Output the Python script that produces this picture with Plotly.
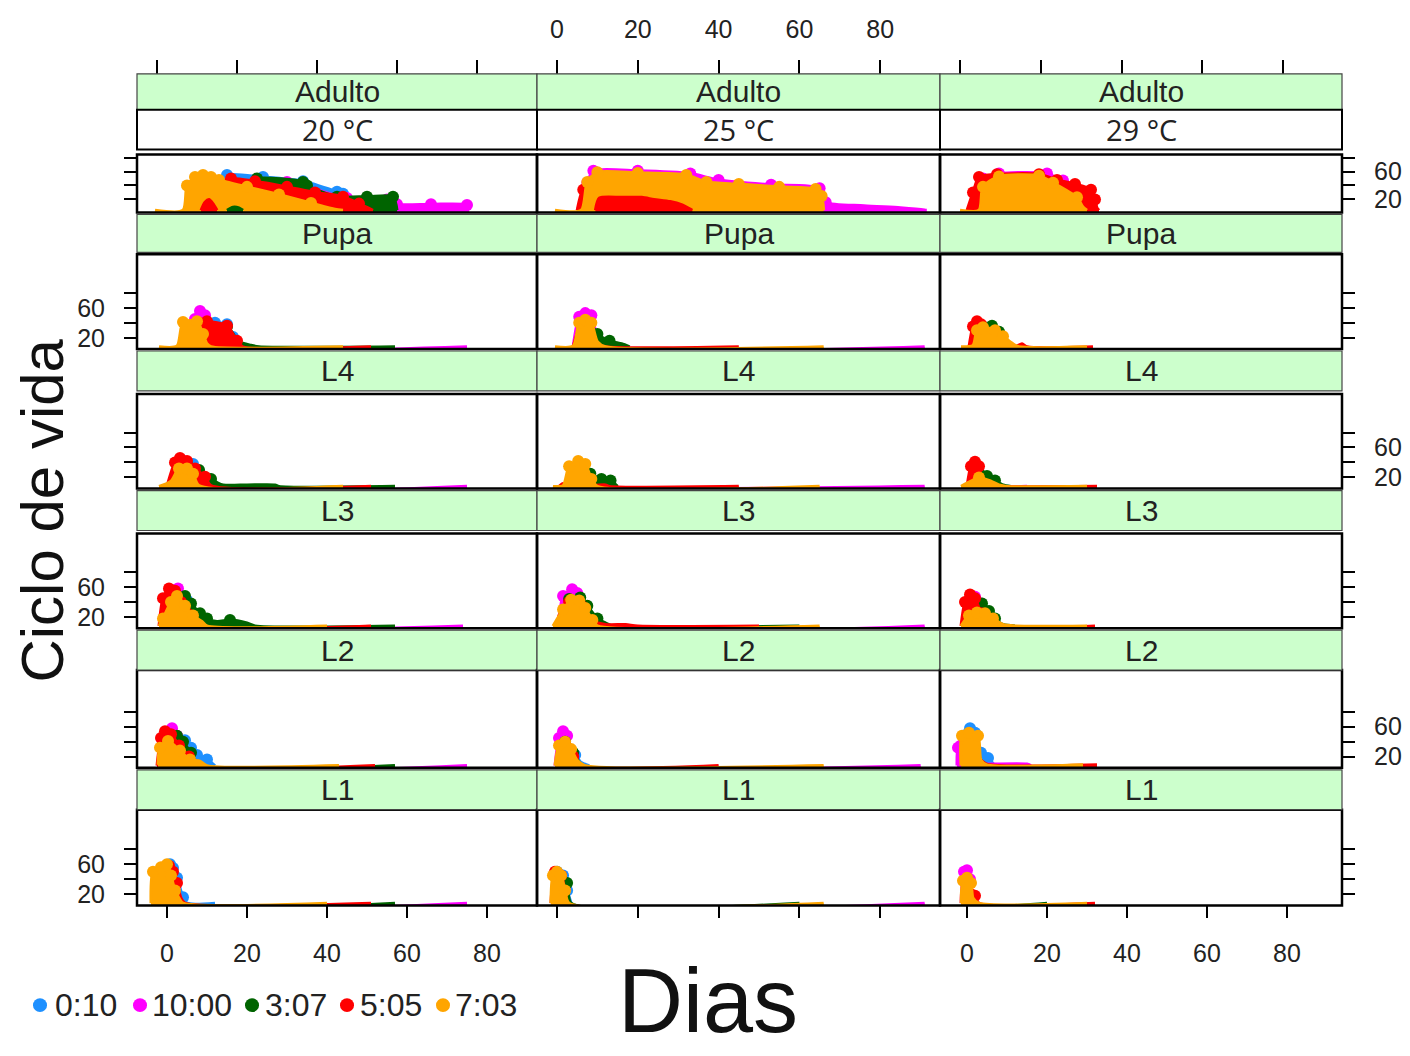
import plotly.graph_objects as go

# page body has an 8px margin: the figure is drawn 8px in from the top-left
OFF = 8
W, H = 1410 - OFF, 1056 - OFF

# ---------------- categories / labels ----------------
SERIES = ["0:10", "10:00", "3:07", "5:05", "7:03"]
COLORS = ["#1e90ff", "#ff00ff", "#006400", "#ff0000", "#ffa500"]
STAGES = ["Adulto", "Pupa", "L4", "L3", "L2", "L1"]
TEMPS = ["20 °C", "25 °C", "29 °C"]
X_TICKS = [0, 20, 40, 60, 80]
Y_TICKS = [20, 40, 60, 80]
Y_TICK_TEXT = ["20", "", "60", ""]

# ---------------- data: series -> (days, values) ----------------
adulto_20 = {
    "0:10": ([10, 13, 15, 24, 34, 42.5, 44, 45], [4.5, 40, 55, 52, 46, 31, 28, 4.5]),
    "10:00": ([15, 17, 20, 30, 45, 55, 57.5, 66, 75, 75.5], [4.5, 6, 40, 45, 22, 20, 13, 13, 12, 4.5]),
    "3:07": ([14, 17, 20, 22.5, 34, 35, 42.5, 50, 56.5, 57.5], [4.5, 10, 40, 50, 45, 40, 24, 24, 24, 4.5]),
    "5:05": ([7, 9, 10, 12, 16, 22, 30, 37, 44, 48, 51.5], [4.5, 20, 25, 40, 50, 46, 38, 30, 24, 14, 4.5]),
    "7:03": ([-3, 4, 5, 7, 9, 11, 13, 20, 28, 36, 42, 44], [4.5, 4.5, 40, 52, 55, 52, 48, 38, 27, 15, 6, 4.5]),
}
# low replicate values that show in front of the orange area
adulto_20_low = {
    "10:00": ([16, 17, 18.5], [4.5, 6, 4.5]),
    "3:07": ([15, 16.5, 18, 19], [4.5, 9, 8, 4.5]),
    "5:05": ([8.5, 9.5, 10.5, 11.5, 12.5], [4.5, 16, 20, 14, 4.5]),
}
adulto_25 = {
    "0:10": ([6, 8, 10, 30, 40, 60, 62], [4.5, 40, 50, 50, 35, 25, 4.5]),
    "10:00": ([5, 7.5, 9, 20, 33, 40, 53, 65, 66.5, 76, 85, 91, 91.5], [4.5, 44, 61, 61, 57, 48, 41, 36, 16, 11, 8, 5, 4.5]),
    "3:07": ([7, 9, 12, 30, 50, 58, 59], [4.5, 35, 45, 40, 30, 20, 4.5]),
    "5:05": ([5, 6.5, 8.5, 10, 21, 24, 30, 33, 33.5], [4.5, 34, 28, 24, 24, 21, 16, 6, 4.5]),
    "7:03": ([-0.5, 6, 7.5, 10, 20, 32, 37, 45, 55, 64, 65.5, 66], [4.5, 4.5, 45, 59, 58, 55, 45, 42, 38, 35, 25, 4.5]),
}
adulto_25_low = {
    "5:05": ([9.5, 10.5, 16, 21, 24, 28, 31, 33, 33.5], [4.5, 22, 23, 23, 20, 17, 12, 6, 4.5]),
}
adulto_29 = {
    "0:10": ([2, 5, 20, 26, 28], [4.5, 30, 35, 20, 4.5]),
    "10:00": ([2, 4, 8, 20, 24, 30, 31], [4.5, 50, 57, 57, 47, 30, 4.5]),
    "3:07": ([2, 5, 20, 28, 29.5, 31], [4.5, 35, 40, 20, 8, 4.5]),
    "5:05": ([0, 1.5, 3, 7.5, 18, 22.5, 27, 31, 32, 32.5, 33], [4.5, 30, 52, 56, 56, 48, 42, 34, 20, 8, 4.5]),
    "7:03": ([-1.75, 3, 4, 8, 18, 21.5, 27.5, 29, 30], [4.5, 4.5, 38, 53, 54, 44, 23, 9, 4.5]),
}

pupa_20 = {
    "0:10": ([6, 9, 12, 15, 16.5, 19, 21], [8, 38, 40, 38, 21, 11, 8]),
    "10:00": ([5, 7, 8.25, 9.5, 11, 13, 75], [8, 45, 56, 50, 20, 8, 8]),
    "3:07": ([6, 10, 15, 18, 21, 23, 57], [8, 35, 35, 15, 10, 8, 8]),
    "5:05": ([6, 8, 10, 15, 17.5, 19, 51], [8, 40, 42, 36, 16, 8, 8]),
    "7:03": ([-2, 2.5, 4, 7.5, 9, 10, 11, 44], [8, 9, 41, 42, 25, 12, 8, 8]),
}
pupa_25 = {
    "0:10": ([4, 6, 8, 10, 12], [8, 40, 45, 15, 8]),
    "10:00": ([4, 5.5, 7, 8.5, 10, 12, 91], [8, 48, 53, 50, 20, 8, 8]),
    "3:07": ([5, 8, 10, 13, 16, 18], [8, 40, 25, 16, 12, 8]),
    "5:05": ([4, 6, 8, 10, 12, 45], [8, 38, 40, 12, 8, 8]),
    "7:03": ([-0.5, 4, 5.5, 7, 8.5, 10, 12, 66], [8, 9, 40, 44, 40, 15, 8, 8]),
}
pupa_29 = {
    "0:10": ([1, 3, 5, 7], [8, 28, 25, 8]),
    "10:00": ([1, 3, 5, 8], [8, 30, 30, 8]),
    "3:07": ([2, 4, 6.25, 8, 10, 12], [8, 35, 36, 28, 15, 8]),
    "5:05": ([0.5, 1.5, 2.5, 3.5, 5, 12, 13.75, 15, 31.5], [8, 35, 42, 38, 12, 8, 12, 8, 8]),
    "7:03": ([-1.5, 1.5, 2.5, 4, 7, 9, 11.5, 13, 30], [8, 10, 30, 34, 30, 22, 12, 8, 8]),
}

l4_20 = {
    "0:10": ([2, 4, 6.5, 8, 10, 12], [8, 40, 38, 28, 14, 8]),
    "10:00": ([1, 3.5, 6, 9, 75], [8, 44, 30, 8, 8]),
    "3:07": ([2, 5, 8, 11, 14, 20, 27, 28, 57], [8, 38, 30, 18, 10, 10, 10, 8, 8]),
    "5:05": ([0, 2, 3.25, 5, 7, 9.5, 11, 51], [8, 40, 46, 42, 32, 21, 9, 8]),
    "7:03": ([-2, 1, 3, 5, 6.5, 8, 44], [8, 15, 32, 32, 25, 9, 8]),
}
l4_25 = {
    "0:10": ([2, 4, 6, 8], [8, 30, 25, 8]),
    "10:00": ([2, 5, 8, 12, 91], [8, 30, 15, 8, 8]),
    "3:07": ([2, 4, 6, 8.25, 11, 13.25, 15], [8, 30, 36, 25, 18, 16, 8]),
    "5:05": ([0.5, 1.5, 2.5, 5, 8, 12, 13, 45], [8, 12, 8, 20, 10, 10, 8, 8]),
    "7:03": ([-1, 1.5, 3, 5.25, 7, 8.5, 10, 65], [8, 9, 35, 42, 38, 18, 8, 8]),
}
l4_29 = {
    "0:10": ([1, 3, 5, 7], [8, 18, 14, 8]),
    "10:00": ([0.5, 2, 4, 7, 15], [8, 22, 18, 8, 8]),
    "3:07": ([1, 3, 5, 7, 9, 11], [8, 26, 22, 16, 10, 8]),
    "5:05": ([0, 1, 2, 3, 4, 8, 9, 32.5], [8, 35, 41, 35, 10, 9, 8, 8]),
    "7:03": ([-1.5, 1, 3, 6, 8, 10, 30], [8, 15, 20, 15, 10, 8, 8]),
}

l3_20 = {
    "0:10": ([1, 3, 5, 7, 9], [8, 40, 42, 20, 8]),
    "10:00": ([0, 1.5, 2.75, 4, 6, 8, 74], [8, 50, 58, 45, 20, 8, 8]),
    "3:07": ([0, 3, 4.5, 6, 8.25, 10, 12.5, 15.75, 20, 22, 57], [8, 45, 48, 38, 25, 18, 14, 16, 12, 8, 8]),
    "5:05": ([-2, -1, 0.5, 2, 3.5, 5, 8, 51], [8, 45, 58, 55, 40, 25, 9, 8]),
    "7:03": ([-2, -1, 1, 2.5, 4.5, 6.5, 8.75, 10, 40], [8, 18, 40, 48, 35, 22, 14, 8, 8]),
}
l3_25 = {
    "0:10": ([1, 3, 5, 7], [8, 40, 40, 8]),
    "10:00": ([0.5, 1.5, 3.75, 5, 6.5, 8, 91], [8, 48, 57, 52, 30, 9, 8]),
    "3:07": ([1, 3, 5.75, 7.5, 10, 12, 14, 60], [8, 44, 46, 35, 18, 12, 8, 8]),
    "5:05": ([0, 1.5, 3, 6, 9, 12, 17, 20, 50], [8, 20, 40, 35, 15, 10, 10, 8, 8]),
    "7:03": ([-1, 1.5, 3.5, 5.5, 7, 8.75, 10, 65], [8, 30, 43, 42, 32, 16, 8, 8]),
}
l3_29 = {
    "0:10": ([0, 2, 4, 6], [8, 35, 30, 8]),
    "10:00": ([-1, 0.5, 2, 3.5, 5, 7], [8, 40, 47, 38, 15, 8]),
    "3:07": ([0, 2, 3.75, 5.5, 7, 9, 12], [8, 36, 38, 28, 18, 10, 8]),
    "5:05": ([-1.5, -0.5, 0.75, 2, 3.5, 5, 32], [8, 40, 50, 45, 25, 10, 8]),
    "7:03": ([-1.5, 0.5, 2.5, 4.5, 6.5, 9, 12, 30], [8, 22, 26, 25, 18, 10, 8, 8]),
}

l2_20 = {
    "0:10": ([0, 2.5, 4.5, 6, 7.5, 10, 12], [8, 40, 42, 32, 22, 16, 8]),
    "10:00": ([-1, 0, 1.25, 2.5, 4, 6, 75], [8, 45, 58, 48, 30, 8, 8]),
    "3:07": ([-1, 1, 2.5, 4, 6, 8, 57], [8, 45, 48, 40, 25, 8, 8]),
    "5:05": ([-2.5, -1.5, -0.5, 1, 3, 5.5, 7, 52], [8, 45, 54, 50, 35, 20, 8, 8]),
    "7:03": ([-2.25, -1.75, 0.25, 3.25, 5.75, 8.25, 10, 43], [9, 32, 41, 28, 16, 14, 8, 8]),
}
l2_25 = {
    "0:10": ([0, 2, 4.5, 6, 8], [8, 35, 22, 12, 8]),
    "10:00": ([-0.5, 0.5, 1.5, 2.5, 4, 6, 90], [8, 45, 54, 48, 20, 8, 8]),
    "3:07": ([0, 2, 4, 6], [8, 40, 25, 8]),
    "5:05": ([0, 2, 4, 6, 40], [8, 38, 20, 8, 8]),
    "7:03": ([-0.5, 0.5, 2, 3.5, 5, 7, 66], [8, 35, 40, 30, 15, 8, 8]),
}
l2_29 = {
    "0:10": ([-1, 0, 0.75, 2, 3.5, 5.25, 7], [8, 50, 58, 52, 25, 18, 8]),
    "10:00": ([-2.5, -2.25, -1.5, 0, 3, 6, 15, 16], [8, 32, 35, 20, 10, 10, 10, 8]),
    "3:07": ([0, 2, 4], [8, 30, 8]),
    "5:05": ([0, 2, 5, 32.5], [8, 20, 10, 9]),
    "7:03": ([-1.5, -1.25, 0.5, 2.75, 3.5, 5, 29], [8, 48, 52, 48, 15, 9, 9]),
}

l1_20 = {
    "0:10": ([-2, 0, 0.75, 1.5, 2.5, 4, 5, 12], [8, 55, 60, 55, 42, 16, 8, 8]),
    "10:00": ([-3, 0, 2, 3, 75], [8, 50, 30, 8, 8]),
    "3:07": ([-3, 0, 2, 3.5, 57], [8, 50, 35, 8, 8]),
    "5:05": ([-3, -1, 0.5, 1.5, 2.5, 3.5, 4.5, 51], [8, 55, 58, 50, 35, 15, 8, 8]),
    "7:03": ([-4, -3.5, -1.5, 0, 1, 2, 3, 4, 40], [8, 50, 56, 60, 45, 25, 15, 8, 8]),
}
l1_25 = {
    "0:10": ([-1, 0, 1.5, 2.5, 3.5], [8, 50, 45, 25, 8]),
    "10:00": ([-1, 0, 2, 3, 91], [8, 45, 30, 8, 8]),
    "3:07": ([-1, 0.5, 2.5, 3.5, 60], [8, 40, 35, 8, 8]),
    "5:05": ([-1.5, -0.5, 1, 2.5], [8, 50, 45, 8]),
    "7:03": ([-1.5, -1, 0, 1, 2, 3, 66], [8, 45, 50, 45, 25, 8, 8]),
}
l1_29 = {
    "0:10": ([-1, 0, 1], [8, 40, 8]),
    "10:00": ([-1.5, -0.75, 0, 0.75, 1.5], [8, 50, 52, 40, 8]),
    "3:07": ([-1, 0, 1, 20], [8, 35, 8, 8]),
    "5:05": ([-0.5, 0.25, 1, 2, 3, 32], [8, 22, 20, 18, 8, 8]),
    "7:03": ([-1.5, -1, 0, 1, 1.5, 3, 30], [8, 38, 42, 35, 15, 8, 8]),
}

PANELS = [
    [adulto_20, adulto_25, adulto_29],
    [pupa_20, pupa_25, pupa_29],
    [l4_20, l4_25, l4_29],
    [l3_20, l3_25, l3_29],
    [l2_20, l2_25, l2_29],
    [l1_20, l1_25, l1_29],
]
FRONT = {(0, 0): adulto_20_low, (0, 1): adulto_25_low}

# ---------------- geometry (page pixels) ----------------
COL_PX = [(137, 537), (537, 940), (940, 1342)]
ROW_PX = [(155, 213), (255, 350), (395, 490), (535, 630), (672, 770), (812, 908)]
STRIP_PX = [(74, 110), (215, 253), (352, 392), (492, 532), (632, 672), (772, 812)]
TEMP_STRIP_PX = (110, 150)
X_RANGES = [[-7.5, 92.5], [-4.95, 94.8], [-6.75, 93.75]]
X_RANGES_TOP = [[-5, 95], [-4.95, 94.8], [-4.95, 94.55]]


def y_range(r):
    top, bot = ROW_PX[r]
    if r == 0:
        return [1.4, 1.4 + (bot - top) / 0.7]
    return [5, 5 + (bot - top) / 0.75]


def px2x(p):
    return (p - OFF) / W


def px2y(p):
    return 1 - (p - OFF) / H


FONT = "Liberation Sans, Arial, sans-serif"
fig = go.Figure()
layout = dict(
    width=W, height=H, margin=dict(l=0, r=0, t=0, b=0),
    paper_bgcolor="white", plot_bgcolor="rgba(0,0,0,0)", showlegend=False,
)
shapes = []
annotations = []


def add_series(days, vals, col, xa, ya, lo):
    sizes = [12 if v > lo + 10 else 0 for v in vals]
    fig.add_trace(go.Scatter(
        x=days, y=vals, xaxis=xa, yaxis=ya,
        mode="lines+markers", fill="tozeroy", fillcolor=col, opacity=1,
        line=dict(color=col, width=3, shape="spline", smoothing=0.7),
        marker=dict(color=col, size=sizes, opacity=1, line=dict(width=0)),
        hoverinfo="skip", showlegend=False,
    ))


for r in range(6):
    yr = y_range(r)
    for c in range(3):
        k = r * 3 + c + 1
        xa = "x" if k == 1 else f"x{k}"
        ya = "y" if k == 1 else f"y{k}"
        data = PANELS[r][c]
        for s, col in zip(SERIES, COLORS):
            days, vals = data[s]
            add_series(days, vals, col, xa, ya, yr[0])
        front = FRONT.get((r, c), {})
        for s, col in zip(SERIES, COLORS):
            if s in front:
                days, vals = front[s]
                add_series(days, vals, col, xa, ya, 100)
        x0, x1 = COL_PX[c]
        yt, yb = ROW_PX[r]
        xaxis = dict(
            domain=[px2x(x0), px2x(x1)], range=X_RANGES[c], anchor=ya,
            showgrid=False, zeroline=False, showline=False,
            tickvals=X_TICKS,
        )
        if r == 5:
            xaxis.update(ticks="outside", ticklen=12, tickwidth=1.5, tickcolor="black",
                         showticklabels=(c != 1), ticklabelstandoff=14,
                         tickfont=dict(family=FONT, size=25, color="#222"))
        else:
            xaxis.update(ticks="", showticklabels=False)
        yaxis = dict(
            domain=[px2y(yb), px2y(yt)], range=yr, anchor=xa,
            showgrid=False, zeroline=False, showline=False,
            tickvals=Y_TICKS, ticktext=Y_TICK_TEXT,
            tickfont=dict(family=FONT, size=25, color="#222"),
        )
        if c == 0:
            yaxis.update(side="left", ticks="outside", ticklen=12, tickwidth=1.5,
                         tickcolor="black", showticklabels=(r in (1, 3, 5)),
                         ticklabelstandoff=14)
        elif c == 2:
            yaxis.update(side="right", ticks="outside", ticklen=12, tickwidth=1.5,
                         tickcolor="black", showticklabels=(r in (0, 2, 4)),
                         ticklabelstandoff=14)
        else:
            yaxis.update(ticks="", showticklabels=False)
        layout["xaxis" if k == 1 else f"xaxis{k}"] = xaxis
        layout["yaxis" if k == 1 else f"yaxis{k}"] = yaxis

        # panel frame
        shapes.append(dict(type="rect", xref="paper", yref="paper",
                           x0=px2x(x0), x1=px2x(x1), y0=px2y(yb), y1=px2y(yt),
                           line=dict(color="black", width=2.5), layer="above"))
        # stage strip
        st, sb = STRIP_PX[r]
        shapes.append(dict(type="rect", xref="paper", yref="paper",
                           x0=px2x(x0), x1=px2x(x1), y0=px2y(sb), y1=px2y(st),
                           fillcolor="#ccffcc", line=dict(color="#444", width=1.2),
                           layer="above"))
        annotations.append(dict(text=STAGES[r], xref="paper", yref="paper",
                                x=px2x((x0 + x1) / 2), y=px2y((st + sb) / 2),
                                xanchor="center", yanchor="middle", showarrow=False,
                                font=dict(family=FONT, size=30, color="#222")))
        if r == 0:
            tt, tb = TEMP_STRIP_PX
            shapes.append(dict(type="rect", xref="paper", yref="paper",
                               x0=px2x(x0), x1=px2x(x1), y0=px2y(tb), y1=px2y(tt),
                               fillcolor="white", line=dict(color="black", width=2),
                               layer="above"))
            annotations.append(dict(text=TEMPS[c], xref="paper", yref="paper",
                                    x=px2x((x0 + x1) / 2), y=px2y((tt + tb) / 2),
                                    xanchor="center", yanchor="middle", showarrow=False,
                                    font=dict(family="Open Sans, sans-serif", size=29,
                                              color="#222")))

# top tick axes (above the strips); dummy traces on a hidden y axis
layout["yaxis30"] = dict(domain=[0.999, 1.0], range=[0, 1], visible=False,
                         anchor="x19")
for c in range(3):
    k = 19 + c
    x0, x1 = COL_PX[c]
    layout[f"xaxis{k}"] = dict(
        domain=[px2x(x0), px2x(x1)], range=X_RANGES_TOP[c], anchor="free",
        position=px2y(74), side="top", showgrid=False, zeroline=False,
        showline=False, tickvals=X_TICKS, ticks="outside", ticklen=14,
        tickwidth=1.5, tickcolor="black", showticklabels=(c == 1),
        ticklabelstandoff=12, tickfont=dict(family=FONT, size=25, color="#222"),
    )
    fig.add_trace(go.Scatter(x=[None], y=[None], xaxis=f"x{k}", yaxis="y30",
                             showlegend=False, hoverinfo="skip"))

# axis titles
annotations.append(dict(text="Ciclo de vida", xref="paper", yref="paper",
                        x=px2x(43), y=px2y(512), textangle=-90,
                        xanchor="center", yanchor="middle", showarrow=False,
                        font=dict(family=FONT, size=60, color="#111")))
annotations.append(dict(text="Dias", xref="paper", yref="paper",
                        x=px2x(708), y=0, xanchor="center", yanchor="bottom",
                        showarrow=False, font=dict(family=FONT, size=90, color="#111")))

# key
KEY_DOT_PX = [40, 140, 252, 347, 443]
KEY_TEXT_PX = [53, 150, 263, 358, 453]
KEY_Y = 1008
for s, col, dx, tx in zip(SERIES, COLORS, KEY_DOT_PX, KEY_TEXT_PX):
    rdot = 7
    shapes.append(dict(type="circle", xref="paper", yref="paper",
                       x0=px2x(dx - rdot), x1=px2x(dx + rdot),
                       y0=px2y(KEY_Y + rdot), y1=px2y(KEY_Y - rdot),
                       fillcolor=col, line=dict(color=col, width=0)))
    annotations.append(dict(text=s, xref="paper", yref="paper",
                            x=px2x(tx), y=px2y(KEY_Y), xanchor="left", yanchor="middle",
                            showarrow=False,
                            font=dict(family=FONT, size=32, color="#222")))

layout["shapes"] = shapes
layout["annotations"] = annotations
fig.update_layout(**layout)
fig.write_html("out.html")
